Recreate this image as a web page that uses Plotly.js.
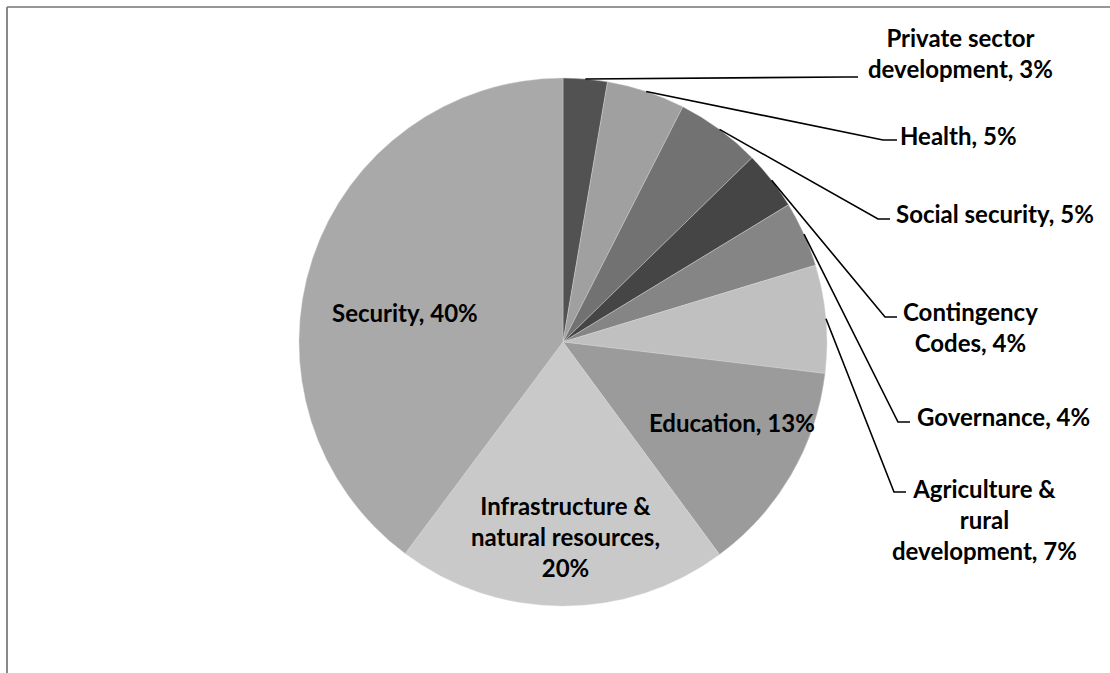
<!DOCTYPE html>
<html>
<head>
<meta charset="utf-8">
<script src="https://cdn.plot.ly/plotly-3.0.1.min.js"></script>
<style>html,body{margin:0;padding:0;background:#fff}#chart{width:1110px;height:673px}</style>
</head>
<body>
<div id="chart"></div>
<script>
// ---- data ----
const categories = ['Private sector development','Health','Social security','Contingency Codes','Governance','Agriculture & rural development','Education','Infrastructure & natural resources','Security'];
const values = [2.7, 4.8, 5.2, 3.6, 4.0, 6.6, 13.0, 20.3, 39.8];
// label text as displayed ({p} = rounded percent)
const labelText = ['Private sector<br>development, {p}%','Health, {p}%','Social security, {p}%','Contingency<br>Codes, {p}%','Governance, {p}%','Agriculture &<br>rural<br>development, {p}%','Education, {p}%','Infrastructure &<br>natural resources,<br>{p}%','Security, {p}%'];
const outsideLabel = [true,true,true,true,true,true,false,false,false];

// ---- styles / layout ----
const colors = ['#525252','#a0a0a0','#727272','#454545','#858585','#c0c0c0','#9b9b9b','#c9c9c9','#a9a9a9'];
const W = 1110, H = 673;
const CX = 563, CY = 342, R = 264;
// label centres (px) and leader elbow / end points (px)
const labelPos = [[960,53],[958,136],[995,213],[970,327],[1003,416],[984,519],[732,422],[565,536],[405,312]];
const leaderEnd = [[[845,77],[858,77]],[[883,140],[897,140]],[[878,219],[890,219]],[[885,317],[897,317]],[[898,422],[910,422]],[[894,492],[906,492]]];

const px = x => x / W;
const py = y => 1 - y / H;
const total = values.reduce((a,b)=>a+b,0);

const annotations = [];
const shapes = [];
let cum = 0;
values.forEach((v,i)=>{
  const pct = Math.round(v/total*100);
  const mid = (cum + v/2)/total * 2*Math.PI;
  cum += v;
  annotations.push({
    x: px(labelPos[i][0]), y: py(labelPos[i][1]), xref:'paper', yref:'paper',
    xanchor:'center', yanchor:'middle', align:'center', showarrow:false,
    text: labelText[i].replace('{p}', pct),
    font:{family:'Lato, "Open Sans", sans-serif', size:24, color:'#000', weight:700}
  });
  if (outsideLabel[i]) {
    const sx = CX + R*Math.sin(mid), sy = CY - R*Math.cos(mid);
    const [e1,e2] = leaderEnd[i];
    shapes.push({type:'path', xref:'paper', yref:'paper',
      path:`M ${px(sx)} ${py(sy)} L ${px(e1[0])} ${py(e1[1])} L ${px(e2[0])} ${py(e2[1])}`,
      line:{color:'#000', width:1.6}});
  }
});
// chart border (top and left visible)
shapes.push({type:'line', xref:'paper', yref:'paper', x0:px(7), y0:py(7), x1:1, y1:py(7), line:{color:'#969696', width:2}});
shapes.push({type:'line', xref:'paper', yref:'paper', x0:px(7), y0:py(7), x1:px(7), y1:0, line:{color:'#888888', width:2}});

const trace = {
  type:'pie', labels:categories, values:values, sort:false, direction:'clockwise', rotation:0,
  textinfo:'none', hoverinfo:'label+percent',
  marker:{colors:colors, line:{color:'#d8d8d8', width:0.4}},
  domain:{x:[(CX-R)/W,(CX+R)/W], y:[(H-CY-R)/H,(H-CY+R)/H]},
  showlegend:false
};
Plotly.newPlot('chart',[trace],{
  width:W, height:H, margin:{l:0,r:0,t:0,b:0},
  paper_bgcolor:'#fff', plot_bgcolor:'#fff',
  annotations:annotations, shapes:shapes, showlegend:false
},{displayModeBar:false, staticPlot:true});
</script>
</body>
</html>
